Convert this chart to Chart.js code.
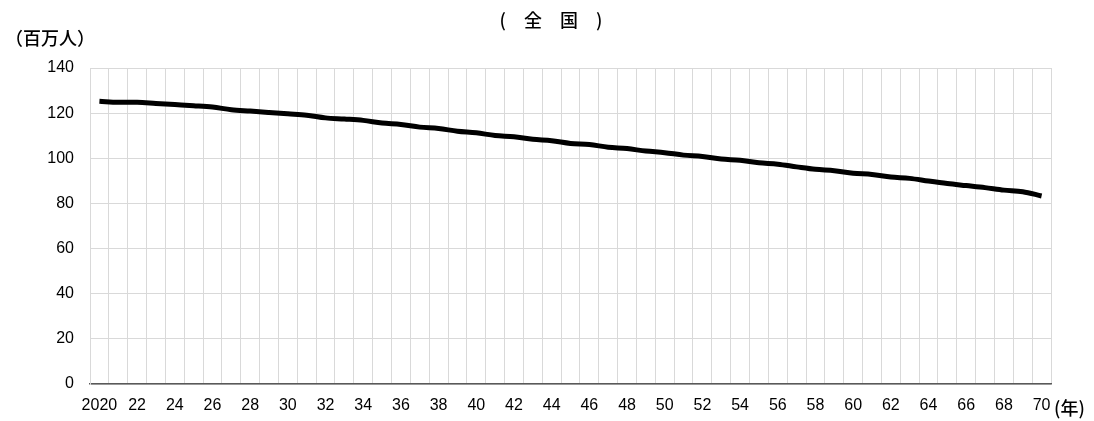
<!DOCTYPE html>
<html lang="ja">
<head>
<meta charset="utf-8">
<title>全国 人口推移</title>
<script src="https://cdn.jsdelivr.net/npm/chart.js@4/dist/chart.umd.min.js"></script>
<style>
  html, body { margin: 0; padding: 0; background: #ffffff; }
  #wrap { width: 1094px; height: 421px; position: relative; }
</style>
</head>
<body>
<div id="wrap"><canvas id="chart" width="1094" height="421"></canvas></div>
<script>
// 年（2020〜2070）
const years = [
  2020, 2021, 2022, 2023, 2024, 2025, 2026, 2027, 2028, 2029,
  2030, 2031, 2032, 2033, 2034, 2035, 2036, 2037, 2038, 2039,
  2040, 2041, 2042, 2043, 2044, 2045, 2046, 2047, 2048, 2049,
  2050, 2051, 2052, 2053, 2054, 2055, 2056, 2057, 2058, 2059,
  2060, 2061, 2062, 2063, 2064, 2065, 2066, 2067, 2068, 2069,
  2070
];

// 総人口（百万人）
const population = [
  125.3, 124.8, 124.8, 124.3, 123.8, 123.3, 122.7, 121.5, 120.9, 120.3,
  119.7, 119.1, 117.9, 117.4, 116.8, 115.6, 115.0, 113.8, 113.2, 112.0,
  111.3, 110.1, 109.5, 108.4, 107.8, 106.6, 106.1, 104.9, 104.3, 103.2,
  102.5, 101.4, 100.8, 99.7, 99.1, 98.0, 97.4, 96.2, 95.1, 94.5,
  93.4, 92.8, 91.7, 91.1, 89.9, 88.8, 87.9, 87.0, 85.9, 85.2,
  83.3
];

// 縦軸の目盛
const yTicks = [0, 20, 40, 60, 80, 100, 120, 140];

const titleText = '(　全　国　)';
const yUnit = '（百万人）';
const xUnit = '(年)';

const jpFont = '"Noto Sans CJK JP", sans-serif';
const numFont = '"Liberation Sans Narrow", "Liberation Sans", sans-serif';

// タイトルと単位を描くプラグイン
const captions = {
  id: 'captions',
  afterDraw(chart) {
    const ctx = chart.ctx;
    const area = chart.chartArea;
    ctx.save();
    ctx.fillStyle = '#000000';
    ctx.textBaseline = 'middle';
    ctx.font = '500 18px ' + jpFont;
    ctx.textAlign = 'center';
    ctx.fillText(titleText, 551, 20);
    ctx.textAlign = 'left';
    ctx.fillText(yUnit, 5, 38);
    ctx.fillText(xUnit, area.right + 3, 408);
    ctx.restore();
  }
};

const ctx = document.getElementById('chart').getContext('2d');
new Chart(ctx, {
  type: 'line',
  data: {
    labels: years,
    datasets: [{
      data: population,
      borderColor: '#000000',
      borderWidth: 5,
      pointRadius: 0,
      pointHoverRadius: 0,
      tension: 0.4,
      cubicInterpolationMode: 'monotone',
      fill: false
    }]
  },
  options: {
    responsive: false,
    animation: false,
    events: [],
    layout: { padding: { top: 68, left: 0, right: 43, bottom: 0 } },
    plugins: {
      legend: { display: false },
      title: { display: false },
      tooltip: { enabled: false }
    },
    scales: {
      x: {
        type: 'category',
        offset: true,
        grid: {
          offset: true,
          color: '#d9d9d9',
          lineWidth: 1,
          drawTicks: false
        },
        border: { color: '#595959', width: 1.5 },
        ticks: {
          autoSkip: false,
          maxRotation: 0,
          minRotation: 0,
          padding: 12,
          color: '#000000',
          font: { family: numFont, size: 16 },
          callback(value, index) {
            const y = years[index];
            if (index === 0) return String(y);
            return index % 2 === 0 ? String(y % 100).padStart(2, '0') : '';
          }
        },
        afterFit(scale) { scale.height = 37; }
      },
      y: {
        min: yTicks[0],
        max: yTicks[yTicks.length - 1],
        grid: {
          color: '#d9d9d9',
          lineWidth: 1,
          drawTicks: false
        },
        border: { color: '#d9d9d9', width: 1 },
        afterBuildTicks(scale) {
          scale.ticks = yTicks.map(v => ({ value: v }));
        },
        ticks: {
          padding: 16,
          color: '#000000',
          font: { family: numFont, size: 16 }
        },
        afterFit(scale) { scale.width = 90; }
      }
    }
  },
  plugins: [captions]
});
</script>
</body>
</html>
